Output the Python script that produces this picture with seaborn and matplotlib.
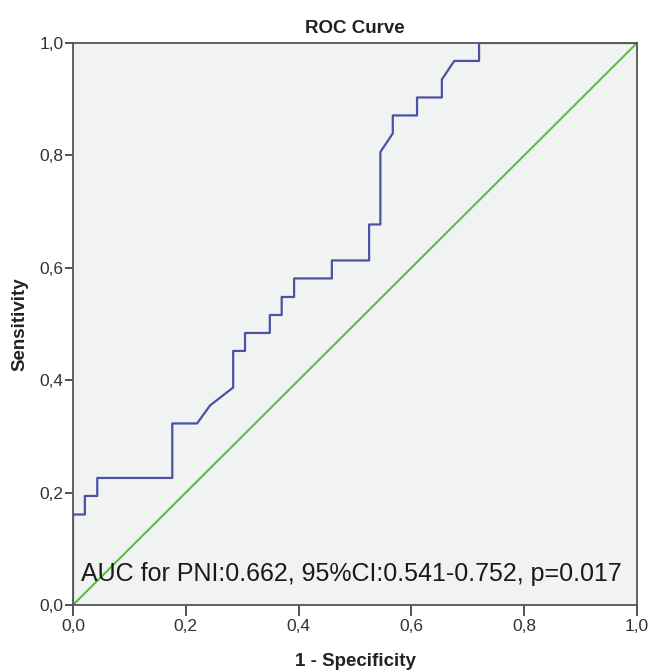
import matplotlib
matplotlib.use('Agg')
import matplotlib.pyplot as plt
import numpy as np
import pandas as pd
import seaborn as sns
from matplotlib.ticker import FuncFormatter

# ROC points (1 - specificity, sensitivity)
fpr = [0, 0, 0.021, 0.021, 0.043, 0.043, 0.176, 0.176, 0.22, 0.243, 0.284, 0.284,
       0.305, 0.305, 0.349, 0.349, 0.37, 0.37, 0.392, 0.392, 0.459, 0.459, 0.525, 0.525,
       0.545, 0.545, 0.567, 0.567, 0.61, 0.61, 0.654, 0.654, 0.676, 0.72, 0.72, 1.0]
tpr = [0, 0.161, 0.161, 0.194, 0.194, 0.226, 0.226, 0.323, 0.323, 0.355, 0.387, 0.452,
       0.452, 0.484, 0.484, 0.516, 0.516, 0.548, 0.548, 0.581, 0.581, 0.613, 0.613, 0.677,
       0.677, 0.806, 0.839, 0.871, 0.871, 0.903, 0.903, 0.935, 0.968, 0.968, 1.0, 1.0]
ref_x = [0, 1]
ref_y = [0, 1]
ticks = [0, 0.2, 0.4, 0.6, 0.8, 1.0]
note = 'AUC for PNI:0.662, 95%CI:0.541-0.752, p=0.017'

sns.set_theme(style='white')
plt.rcParams['font.family'] = ['Liberation Sans', 'DejaVu Sans']

roc = pd.DataFrame({'fpr': fpr, 'tpr': tpr})
diag = pd.DataFrame({'x': ref_x, 'y': ref_y})

fig = plt.figure(figsize=(6.49, 6.71), dpi=100)
ax = fig.add_axes([0.1125, 0.0984, 0.869, 0.8376])
ax.set_facecolor('#F1F2F2')

sns.lineplot(data=diag, x='x', y='y', color='#5DBB4E', lw=1.5, ax=ax,
             sort=False, estimator=None)
sns.lineplot(data=roc, x='fpr', y='tpr', color='#4A52A6', lw=1.6, ax=ax,
             sort=False, estimator=None)

ax.set_xlim(0, 1)
ax.set_ylim(0, 1)
ax.set_xticks(ticks)
ax.set_yticks(ticks)
fmt = FuncFormatter(lambda v, p: ('%.1f' % v).replace('.', ','))
ax.xaxis.set_major_formatter(fmt)
ax.yaxis.set_major_formatter(fmt)
ax.tick_params(axis='x', direction='out', length=8, width=1.3, colors='#444444',
               labelsize=12.5, bottom=True, pad=2)
ax.tick_params(axis='y', direction='out', length=6, width=1.3, colors='#444444',
               labelsize=12.5, left=True, pad=1)
for lab in ax.get_xticklabels() + ax.get_yticklabels():
    lab.set_color('#333333')
for s in ax.spines.values():
    s.set_color('#555555')
    s.set_linewidth(1.3)

ax.set_xlabel('1 - Specificity', fontsize=13.5, fontweight='bold', labelpad=14, color='#222222')
ax.set_ylabel('Sensitivity', fontsize=13.5, fontweight='bold', labelpad=8, color='#222222')
ax.set_title('ROC Curve', fontsize=13.5, fontweight='bold', pad=7, color='#222222')

ax.text(0.014, 0.055, note, fontsize=18, color='#1A1A1A', va='center', ha='left')

fig.savefig('out.png', dpi=100)
